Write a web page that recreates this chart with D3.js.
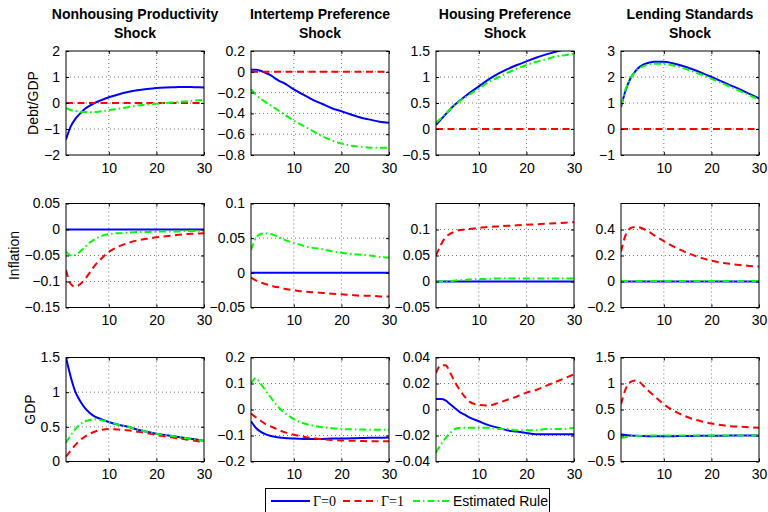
<!DOCTYPE html>
<html><head><meta charset="utf-8">
<script src="https://cdn.jsdelivr.net/npm/d3@7"></script>
<style>
html,body{margin:0;padding:0;background:#fff;}
svg{display:block;font-family:"Liberation Sans",Arial,Helvetica,sans-serif;}
</style></head>
<body><svg id="c" width="768" height="512"></svg>
<script>
// ---------- data ----------
const xs = [1,2,3,4,5,6,7,8,10,12,14,16,18,20,22,24,26,28,30];
const colTitles = [["Nonhousing Productivity","Shock"],["Intertemp Preference","Shock"],["Housing Preference","Shock"],["Lending Standards","Shock"]];
const rowLabels = ["Debt/GDP","Inflation","GDP"];
const seriesNames = ["Γ=0","Γ=1","Estimated Rule"];
const xTicks = [10,20,30];

// y domains & ticks [row][col]
const yDomains = [
  [[-2,2],[-0.8,0.2],[-0.5,1.5],[-1,3]],
  [[-0.15,0.05],[-0.05,0.1],[-0.05,0.15],[-0.2,0.6]],
  [[0,1.5],[-0.2,0.2],[-0.04,0.04],[-0.5,1.5]]
];
const yTicks = [
  [[-2,-1,0,1,2],[-0.8,-0.6,-0.4,-0.2,0,0.2],[-0.5,0,0.5,1,1.5],[-1,0,1,2,3]],
  [[-0.15,-0.1,-0.05,0,0.05],[-0.05,0,0.05,0.1],[-0.05,0,0.05,0.1],[-0.2,0,0.2,0.4]],
  [[0,0.5,1,1.5],[-0.2,-0.1,0,0.1,0.2],[-0.04,-0.02,0,0.02,0.04],[-0.5,0,0.5,1,1.5]]
];

const zeros = [0,0,0,0,0,0,0,0,0,0,0,0,0,0,0,0,0,0,0];

// Row 1: Debt/GDP
const debt_nonhousing_g0  = [-1.4,-0.9,-0.6,-0.4,-0.22,-0.1,0.0,0.08,0.22,0.33,0.42,0.49,0.54,0.58,0.6,0.61,0.62,0.61,0.6];
const debt_nonhousing_g1  = zeros;
const debt_nonhousing_est = [-0.2,-0.27,-0.31,-0.34,-0.35,-0.36,-0.35,-0.33,-0.28,-0.22,-0.16,-0.1,-0.06,-0.03,0.0,0.03,0.06,0.09,0.12];

const debt_intertemp_g0  = [0.02,0.02,0.01,-0.01,-0.03,-0.06,-0.09,-0.11,-0.17,-0.22,-0.27,-0.31,-0.35,-0.38,-0.41,-0.44,-0.46,-0.48,-0.49];
const debt_intertemp_g1  = zeros;
const debt_intertemp_est = [-0.17,-0.22,-0.26,-0.29,-0.32,-0.35,-0.38,-0.41,-0.47,-0.52,-0.57,-0.62,-0.66,-0.69,-0.71,-0.72,-0.73,-0.73,-0.73];

const debt_housing_g0  = [0.08,0.18,0.28,0.38,0.47,0.55,0.62,0.69,0.82,0.95,1.06,1.15,1.23,1.3,1.37,1.43,1.48,1.53,1.57];
const debt_housing_g1  = zeros;
const debt_housing_est = [0.12,0.2,0.29,0.38,0.46,0.54,0.6,0.66,0.78,0.9,0.99,1.08,1.16,1.23,1.29,1.34,1.39,1.42,1.45];

const debt_lending_g0  = [0.85,1.5,1.95,2.22,2.4,2.5,2.56,2.59,2.59,2.52,2.42,2.3,2.16,2.0,1.84,1.68,1.52,1.35,1.18];
const debt_lending_g1  = zeros;
const debt_lending_est = [0.9,1.55,1.95,2.2,2.35,2.44,2.49,2.51,2.5,2.44,2.34,2.22,2.08,1.93,1.78,1.62,1.46,1.3,1.13];

// Row 2: Inflation
const infl_nonhousing_g0  = zeros;
const infl_nonhousing_g1  = [-0.078,-0.105,-0.11,-0.105,-0.095,-0.083,-0.07,-0.06,-0.043,-0.033,-0.026,-0.021,-0.018,-0.015,-0.013,-0.011,-0.009,-0.008,-0.007];
const infl_nonhousing_est = [-0.042,-0.05,-0.049,-0.042,-0.033,-0.025,-0.019,-0.014,-0.009,-0.007,-0.006,-0.005,-0.005,-0.004,-0.004,-0.004,-0.003,-0.003,-0.003];

const infl_intertemp_g0  = zeros;
const infl_intertemp_g1  = [-0.007,-0.011,-0.014,-0.016,-0.018,-0.02,-0.021,-0.023,-0.025,-0.027,-0.028,-0.029,-0.03,-0.031,-0.032,-0.033,-0.033,-0.034,-0.034];
const infl_intertemp_est = [0.033,0.05,0.056,0.057,0.056,0.054,0.051,0.048,0.043,0.039,0.036,0.034,0.031,0.029,0.027,0.026,0.025,0.023,0.022];

const infl_housing_g0  = zeros;
const infl_housing_g1  = [0.05,0.07,0.085,0.092,0.096,0.099,0.1,0.101,0.103,0.105,0.106,0.107,0.108,0.109,0.11,0.111,0.112,0.113,0.114];
const infl_housing_est = [0.0,0.0,0.001,0.001,0.002,0.003,0.003,0.004,0.005,0.005,0.006,0.006,0.006,0.006,0.006,0.006,0.006,0.006,0.006];

const infl_lending_g0  = zeros;
const infl_lending_g1  = [0.23,0.36,0.41,0.42,0.415,0.4,0.38,0.355,0.31,0.27,0.235,0.205,0.18,0.16,0.145,0.135,0.127,0.12,0.115];
const infl_lending_est = [0.003,0.003,0.003,0.003,0.003,0.003,0.003,0.003,0.003,0.003,0.003,0.003,0.003,0.003,0.003,0.003,0.003,0.003,0.003];

// Row 3: GDP
const gdp_nonhousing_g0  = [1.5,1.22,1.0,0.87,0.77,0.7,0.65,0.62,0.57,0.53,0.5,0.46,0.43,0.4,0.38,0.36,0.34,0.32,0.3];
const gdp_nonhousing_g1  = [0.07,0.16,0.24,0.31,0.36,0.4,0.43,0.45,0.47,0.46,0.45,0.43,0.41,0.38,0.36,0.34,0.32,0.3,0.28];
const gdp_nonhousing_est = [0.27,0.38,0.47,0.54,0.58,0.6,0.61,0.6,0.57,0.53,0.5,0.46,0.43,0.4,0.38,0.36,0.34,0.32,0.3];

const gdp_intertemp_g0  = [-0.045,-0.07,-0.085,-0.095,-0.101,-0.105,-0.108,-0.11,-0.112,-0.113,-0.113,-0.113,-0.112,-0.112,-0.111,-0.11,-0.109,-0.109,-0.108];
const gdp_intertemp_g1  = [-0.015,-0.03,-0.043,-0.055,-0.064,-0.072,-0.08,-0.087,-0.097,-0.105,-0.11,-0.114,-0.117,-0.119,-0.12,-0.121,-0.122,-0.122,-0.122];
const gdp_intertemp_est = [0.1,0.12,0.1,0.075,0.05,0.025,0.005,-0.012,-0.037,-0.053,-0.062,-0.068,-0.072,-0.075,-0.076,-0.077,-0.078,-0.078,-0.078];

const gdp_housing_g0  = [0.008,0.008,0.007,0.004,0.001,-0.002,-0.004,-0.006,-0.009,-0.012,-0.014,-0.016,-0.017,-0.018,-0.019,-0.019,-0.019,-0.019,-0.019];
const gdp_housing_g1  = [0.028,0.034,0.034,0.028,0.021,0.015,0.01,0.006,0.0035,0.003,0.005,0.0075,0.01,0.013,0.015,0.018,0.021,0.024,0.027];
const gdp_housing_est = [-0.033,-0.027,-0.022,-0.018,-0.015,-0.014,-0.014,-0.014,-0.014,-0.014,-0.015,-0.015,-0.016,-0.016,-0.016,-0.015,-0.015,-0.015,-0.014];

const gdp_lending_g0  = [0.02,0.01,0.0,-0.005,-0.01,-0.012,-0.014,-0.015,-0.015,-0.013,-0.01,-0.008,-0.006,-0.004,-0.003,-0.002,-0.001,0,0];
const gdp_lending_g1  = [0.6,0.9,1.03,1.06,1.02,0.93,0.84,0.76,0.6,0.48,0.39,0.32,0.27,0.23,0.2,0.18,0.17,0.16,0.15];
const gdp_lending_est = [-0.05,-0.03,-0.015,-0.008,-0.004,-0.002,0,0,0,0,0,0,0,0,0,0,0,0,0];

const panels = [
  [[debt_nonhousing_g0,debt_nonhousing_g1,debt_nonhousing_est],[debt_intertemp_g0,debt_intertemp_g1,debt_intertemp_est],[debt_housing_g0,debt_housing_g1,debt_housing_est],[debt_lending_g0,debt_lending_g1,debt_lending_est]],
  [[infl_nonhousing_g0,infl_nonhousing_g1,infl_nonhousing_est],[infl_intertemp_g0,infl_intertemp_g1,infl_intertemp_est],[infl_housing_g0,infl_housing_g1,infl_housing_est],[infl_lending_g0,infl_lending_g1,infl_lending_est]],
  [[gdp_nonhousing_g0,gdp_nonhousing_g1,gdp_nonhousing_est],[gdp_intertemp_g0,gdp_intertemp_g1,gdp_intertemp_est],[gdp_housing_g0,gdp_housing_g1,gdp_housing_est],[gdp_lending_g0,gdp_lending_g1,gdp_lending_est]]
];

// ---------- layout ----------
const colLeft = [66, 251, 436, 621];
const rowTop = [51, 203.5, 357.5];
const pw = 138, ph = 104;
const styles = [
  {color:"#0000ff", dash:null},
  {color:"#ff0000", dash:"7,4.5"},
  {color:"#00ff00", dash:"7,3,1.5,3"}
];
const svg = d3.select("#c");
const fmt = d3.format("~g");
const FONT = "Liberation Sans, Arial, sans-serif";

panels.forEach((row, r) => {
  row.forEach((ser, c) => {
    const L = colLeft[c], T = rowTop[r];
    const x = d3.scaleLinear().domain([1,30]).range([L, L+pw]);
    const y = d3.scaleLinear().domain(yDomains[r][c]).range([T+ph, T]);
    const g = svg.append("g");
    const cid = `clip${r}${c}`;
    g.append("clipPath").attr("id", cid).append("rect")
      .attr("x", L).attr("y", T).attr("width", pw).attr("height", ph);
    g.append("rect").attr("x", L).attr("y", T).attr("width", pw).attr("height", ph).attr("fill", "#fff");
    // grid
    const grid = g.append("g").attr("stroke", "#555").attr("stroke-width", 0.8).attr("stroke-dasharray", "1,3");
    xTicks.forEach(t => { if (t < 30) grid.append("line").attr("x1", x(t)).attr("x2", x(t)).attr("y1", T).attr("y2", T+ph); });
    yTicks[r][c].forEach(t => {
      const yy = y(t);
      if (yy > T+0.5 && yy < T+ph-0.5) grid.append("line").attr("x1", L).attr("x2", L+pw).attr("y1", yy).attr("y2", yy);
    });
    // lines
    const lg = g.append("g").attr("clip-path", `url(#${cid})`);
    ser.forEach((vals, i) => {
      const line = d3.line().x((d, k) => x(xs[k])).y(d => y(d)).curve(d3.curveMonotoneX);
      lg.append("path").attr("d", line(vals)).attr("fill", "none")
        .attr("stroke", styles[i].color).attr("stroke-width", 2)
        .attr("stroke-dasharray", styles[i].dash);
    });
    // axes with inside ticks
    const ax = g.append("g");
    const xa = d3.axisBottom(x).tickValues(xTicks).tickSizeInner(-3).tickSizeOuter(0).tickPadding(8).tickFormat(fmt);
    const ya = d3.axisLeft(y).tickValues(yTicks[r][c]).tickSizeInner(-3).tickSizeOuter(0).tickPadding(6).tickFormat(fmt);
    ax.append("g").attr("transform", `translate(0,${T+ph})`).call(xa);
    const yg = ax.append("g").attr("transform", `translate(${L},0)`).call(ya);
    ax.append("g").attr("transform", `translate(0,${T})`).call(d3.axisTop(x).tickValues(xTicks).tickSizeInner(-3).tickSizeOuter(0).tickFormat(""));
    ax.append("g").attr("transform", `translate(${L+pw},0)`).call(d3.axisRight(y).tickValues(yTicks[r][c]).tickSizeInner(-3).tickSizeOuter(0).tickFormat(""));
    ax.selectAll(".domain").remove();
    ax.selectAll("g").attr("font-size", null).attr("font-family", null);
    ax.selectAll("text").attr("fill", "#000").attr("font-family", FONT).attr("font-size", 14);
    ax.selectAll("line").attr("stroke", "#000");
    g.append("rect").attr("x", L).attr("y", T).attr("width", pw).attr("height", ph)
      .attr("fill", "none").attr("stroke", "#000").attr("stroke-width", 1);
    // row label
    if (c === 0) {
      let mw = 0;
      yg.selectAll("text").each(function(){ mw = Math.max(mw, this.getComputedTextLength()); });
      const lx = L - 6 - mw - 6;
      svg.append("text").attr("transform", `translate(${lx},${T+ph/2}) rotate(-90)`)
        .attr("text-anchor", "middle").attr("font-size", 14).attr("font-family", FONT).text(rowLabels[r]);
    }
    // column title
    if (r === 0) {
      colTitles[c].forEach((t, k) => {
        svg.append("text").attr("x", L + pw/2).attr("y", 19 + k*18.5)
          .attr("text-anchor", "middle").attr("font-size", 14).attr("font-weight", "bold")
          .attr("font-family", FONT).text(t);
      });
    }
  });
});

// ---------- legend ----------
const lgd = svg.append("g");
lgd.append("rect").attr("x", 265.5).attr("y", 488.5).attr("width", 284).attr("height", 30)
  .attr("fill", "#fff").attr("stroke", "#000").attr("stroke-width", 1);
const legItems = [
  {x1:271, x2:310, tx:313, serif:true},
  {x1:343, x2:378, tx:381, serif:true},
  {x1:413, x2:450, tx:453, serif:false}
];
seriesNames.forEach((n, i) => {
  const it = legItems[i];
  lgd.append("line").attr("x1", it.x1).attr("x2", it.x2).attr("y1", 501).attr("y2", 501)
    .attr("stroke", styles[i].color).attr("stroke-width", 2).attr("stroke-dasharray", styles[i].dash);
  lgd.append("text").attr("x", it.tx).attr("y", 506).attr("font-size", 14)
    .attr("font-family", it.serif ? "Liberation Serif, Times New Roman, serif" : FONT)
    .text(n);
});
</script></body></html>
